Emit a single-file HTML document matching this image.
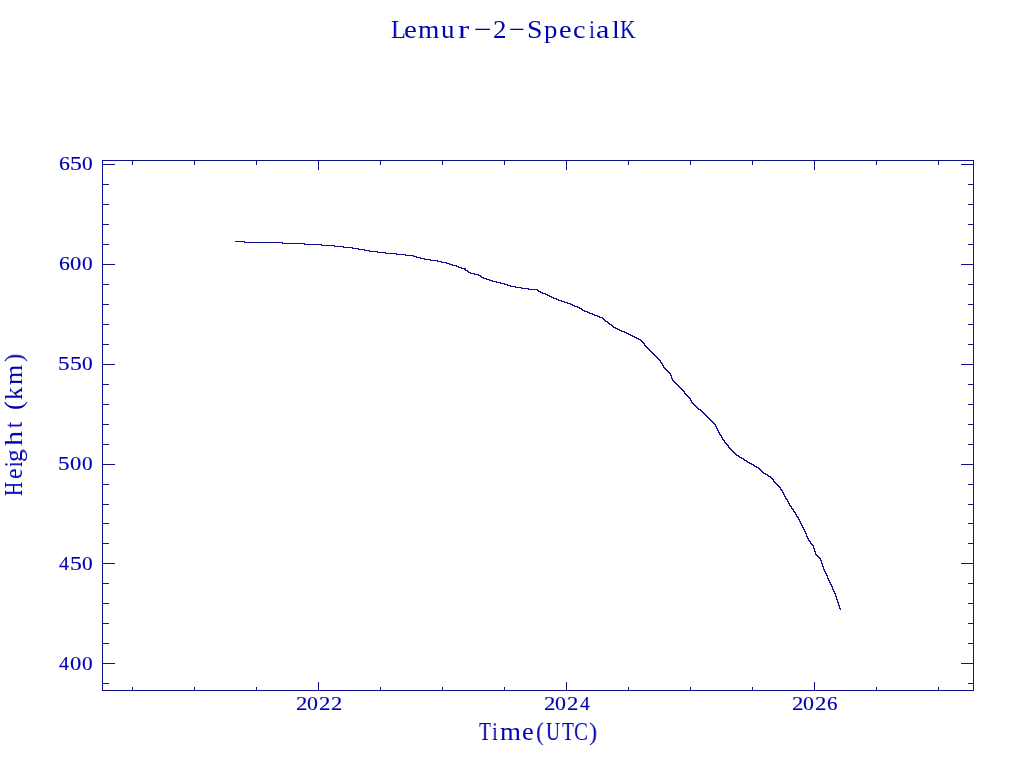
<!DOCTYPE html>
<html><head><meta charset="utf-8">
<style>
html,body{margin:0;padding:0;background:#fff;}
body{width:1024px;height:768px;position:relative;overflow:hidden;font-family:"Liberation Serif",serif;color:#0000b0;}
svg{position:absolute;left:0;top:0;}
.g{position:absolute;white-space:nowrap;line-height:1;transform-origin:0 0;will-change:transform;}
.d{-webkit-text-stroke:0.15px #0000b0;}
#yt{position:absolute;left:0;top:495px;width:0;height:0;transform:rotate(-90deg);transform-origin:0 0;}
</style></head><body>
<svg width="1024" height="768" viewBox="0 0 1024 768">
<g fill="#10108c" shape-rendering="crispEdges">
<rect x="102" y="160" width="872" height="1"/><rect x="102" y="690" width="872" height="1"/><rect x="102" y="160" width="1" height="531"/><rect x="973" y="160" width="1" height="531"/><rect x="102" y="164" width="13" height="1"/><rect x="961" y="164" width="13" height="1"/><rect x="102" y="184" width="7" height="1"/><rect x="968" y="184" width="6" height="1"/><rect x="102" y="204" width="7" height="1"/><rect x="968" y="204" width="6" height="1"/><rect x="102" y="224" width="7" height="1"/><rect x="968" y="224" width="6" height="1"/><rect x="102" y="244" width="7" height="1"/><rect x="968" y="244" width="6" height="1"/><rect x="102" y="264" width="13" height="1"/><rect x="961" y="264" width="13" height="1"/><rect x="102" y="284" width="7" height="1"/><rect x="968" y="284" width="6" height="1"/><rect x="102" y="304" width="7" height="1"/><rect x="968" y="304" width="6" height="1"/><rect x="102" y="324" width="7" height="1"/><rect x="968" y="324" width="6" height="1"/><rect x="102" y="344" width="7" height="1"/><rect x="968" y="344" width="6" height="1"/><rect x="102" y="364" width="13" height="1"/><rect x="961" y="364" width="13" height="1"/><rect x="102" y="384" width="7" height="1"/><rect x="968" y="384" width="6" height="1"/><rect x="102" y="404" width="7" height="1"/><rect x="968" y="404" width="6" height="1"/><rect x="102" y="424" width="7" height="1"/><rect x="968" y="424" width="6" height="1"/><rect x="102" y="444" width="7" height="1"/><rect x="968" y="444" width="6" height="1"/><rect x="102" y="464" width="13" height="1"/><rect x="961" y="464" width="13" height="1"/><rect x="102" y="484" width="7" height="1"/><rect x="968" y="484" width="6" height="1"/><rect x="102" y="504" width="7" height="1"/><rect x="968" y="504" width="6" height="1"/><rect x="102" y="523" width="7" height="1"/><rect x="968" y="523" width="6" height="1"/><rect x="102" y="543" width="7" height="1"/><rect x="968" y="543" width="6" height="1"/><rect x="102" y="563" width="13" height="1"/><rect x="961" y="563" width="13" height="1"/><rect x="102" y="583" width="7" height="1"/><rect x="968" y="583" width="6" height="1"/><rect x="102" y="603" width="7" height="1"/><rect x="968" y="603" width="6" height="1"/><rect x="102" y="623" width="7" height="1"/><rect x="968" y="623" width="6" height="1"/><rect x="102" y="643" width="7" height="1"/><rect x="968" y="643" width="6" height="1"/><rect x="102" y="663" width="13" height="1"/><rect x="961" y="663" width="13" height="1"/><rect x="102" y="683" width="7" height="1"/><rect x="968" y="683" width="6" height="1"/><rect x="132" y="687" width="1" height="4"/><rect x="132" y="160" width="1" height="5"/><rect x="194" y="687" width="1" height="4"/><rect x="194" y="160" width="1" height="5"/><rect x="256" y="687" width="1" height="4"/><rect x="256" y="160" width="1" height="5"/><rect x="318" y="682" width="1" height="9"/><rect x="318" y="160" width="1" height="10"/><rect x="380" y="687" width="1" height="4"/><rect x="380" y="160" width="1" height="5"/><rect x="442" y="687" width="1" height="4"/><rect x="442" y="160" width="1" height="5"/><rect x="504" y="687" width="1" height="4"/><rect x="504" y="160" width="1" height="5"/><rect x="566" y="682" width="1" height="9"/><rect x="566" y="160" width="1" height="10"/><rect x="628" y="687" width="1" height="4"/><rect x="628" y="160" width="1" height="5"/><rect x="690" y="687" width="1" height="4"/><rect x="690" y="160" width="1" height="5"/><rect x="752" y="687" width="1" height="4"/><rect x="752" y="160" width="1" height="5"/><rect x="814" y="682" width="1" height="9"/><rect x="814" y="160" width="1" height="10"/><rect x="876" y="687" width="1" height="4"/><rect x="876" y="160" width="1" height="5"/><rect x="938" y="687" width="1" height="4"/><rect x="938" y="160" width="1" height="5"/>
</g>
<path d="M235 241h10v1h-10zM244 242h39v1h-39zM282 243h23v1h-23zM304 244h18v1h-18zM321 245h14v1h-14zM334 246h10v1h-10zM343 247h10v1h-10zM352 248h7v1h-7zM358 249h7v1h-7zM364 250h6v1h-6zM369 251h9v1h-9zM377 252h9v1h-9zM385 253h12v1h-12zM396 254h10v1h-10zM405 255h9v1h-9zM413 256h4v1h-4zM416 257h5v1h-5zM420 258h5v1h-5zM424 259h7v1h-7zM430 260h8v1h-8zM437 261h5v1h-5zM441 262h6v1h-6zM446 263h4v1h-4zM449 264h4v1h-4zM452 265h5v1h-5zM456 266h3v1h-3zM458 267h4v1h-4zM461 268h5v1h-5zM464 269h2v1h-2zM465 270h3v1h-3zM467 271h2v1h-2zM468 272h3v1h-3zM470 273h5v1h-5zM474 274h5v1h-5zM478 275h3v1h-3zM480 276h2v1h-2zM481 277h3v1h-3zM483 278h4v1h-4zM486 279h4v1h-4zM489 280h4v1h-4zM492 281h5v1h-5zM496 282h5v1h-5zM500 283h5v1h-5zM504 284h4v1h-4zM507 285h4v1h-4zM510 286h6v1h-6zM515 287h7v1h-7zM521 288h8v1h-8zM528 289h10v1h-10zM537 290h2v1h-2zM538 291h3v1h-3zM540 292h3v1h-3zM542 293h4v1h-4zM545 294h3v1h-3zM547 295h3v1h-3zM549 296h3v1h-3zM551 297h3v1h-3zM553 298h4v1h-4zM556 299h3v1h-3zM558 300h4v1h-4zM561 301h4v1h-4zM564 302h4v1h-4zM567 303h4v1h-4zM570 304h3v1h-3zM572 305h3v1h-3zM574 306h4v1h-4zM577 307h3v1h-3zM579 308h3v1h-3zM581 309h2v1h-2zM582 310h3v1h-3zM584 311h4v1h-4zM587 312h3v1h-3zM589 313h4v1h-4zM592 314h3v1h-3zM594 315h4v1h-4zM597 316h3v1h-3zM599 317h4v1h-4zM602 318h2v1h-2zM603 319h2v1h-2zM604 320h2v1h-2zM605 321h3v1h-3zM607 322h2v1h-2zM608 323h2v1h-2zM609 324h3v1h-3zM611 325h2v1h-2zM612 326h2v1h-2zM613 327h3v1h-3zM615 328h3v1h-3zM617 329h3v1h-3zM619 330h3v1h-3zM621 331h4v1h-4zM624 332h3v1h-3zM626 333h3v1h-3zM628 334h3v1h-3zM630 335h3v1h-3zM632 336h3v1h-3zM634 337h3v1h-3zM636 338h3v1h-3zM638 339h3v1h-3zM640 340h2v1h-2zM641 341h2v1h-2zM642 342h2v1h-2zM643 343h2v1h-2zM644 344h1v1h-1zM644 345h2v1h-2zM645 346h2v1h-2zM646 347h2v1h-2zM647 348h2v1h-2zM648 349h2v1h-2zM649 350h2v1h-2zM650 351h2v1h-2zM651 352h2v1h-2zM652 353h2v1h-2zM653 354h2v1h-2zM654 355h2v1h-2zM655 356h2v1h-2zM656 357h2v1h-2zM657 358h2v1h-2zM658 359h2v1h-2zM659 360h2v1h-2zM660 361h1v1h-1zM660 362h2v1h-2zM661 363h2v1h-2zM662 364h1v1h-1zM662 365h2v1h-2zM663 366h1v1h-1zM663 367h2v1h-2zM664 368h2v1h-2zM665 369h2v1h-2zM666 370h2v1h-2zM667 371h2v1h-2zM668 372h2v1h-2zM669 373h2v1h-2zM670 374h1v1h-1zM670 375h2v1h-2zM671 376h1v1h-1zM671 377h1v1h-1zM671 378h2v1h-2zM672 379h1v1h-1zM672 380h2v1h-2zM673 381h2v1h-2zM674 382h2v1h-2zM675 383h2v1h-2zM676 384h2v1h-2zM677 385h2v1h-2zM678 386h2v1h-2zM679 387h2v1h-2zM680 388h2v1h-2zM681 389h2v1h-2zM682 390h2v1h-2zM683 391h2v1h-2zM684 392h1v1h-1zM684 393h2v1h-2zM685 394h2v1h-2zM686 395h2v1h-2zM687 396h2v1h-2zM688 397h2v1h-2zM689 398h2v1h-2zM690 399h1v1h-1zM690 400h2v1h-2zM691 401h1v1h-1zM691 402h2v1h-2zM692 403h2v1h-2zM693 404h2v1h-2zM694 405h2v1h-2zM695 406h2v1h-2zM696 407h2v1h-2zM697 408h2v1h-2zM698 409h3v1h-3zM700 410h2v1h-2zM701 411h2v1h-2zM702 412h2v1h-2zM703 413h2v1h-2zM704 414h2v1h-2zM705 415h2v1h-2zM706 416h2v1h-2zM707 417h2v1h-2zM708 418h2v1h-2zM709 419h2v1h-2zM710 420h2v1h-2zM711 421h2v1h-2zM712 422h2v1h-2zM713 423h2v1h-2zM714 424h2v1h-2zM715 425h1v1h-1zM715 426h2v1h-2zM716 427h1v1h-1zM716 428h2v1h-2zM717 429h1v1h-1zM717 430h2v1h-2zM718 431h1v1h-1zM718 432h2v1h-2zM719 433h1v1h-1zM719 434h2v1h-2zM720 435h2v1h-2zM721 436h1v1h-1zM721 437h2v1h-2zM722 438h1v1h-1zM722 439h2v1h-2zM723 440h2v1h-2zM724 441h1v1h-1zM724 442h2v1h-2zM725 443h2v1h-2zM726 444h2v1h-2zM727 445h2v1h-2zM728 446h1v1h-1zM728 447h2v1h-2zM729 448h2v1h-2zM730 449h2v1h-2zM731 450h2v1h-2zM732 451h2v1h-2zM733 452h2v1h-2zM734 453h2v1h-2zM735 454h2v1h-2zM736 455h3v1h-3zM738 456h2v1h-2zM739 457h3v1h-3zM741 458h3v1h-3zM743 459h2v1h-2zM744 460h3v1h-3zM746 461h2v1h-2zM747 462h3v1h-3zM749 463h3v1h-3zM751 464h3v1h-3zM753 465h2v1h-2zM754 466h3v1h-3zM756 467h3v1h-3zM758 468h2v1h-2zM759 469h2v1h-2zM760 470h2v1h-2zM761 471h2v1h-2zM762 472h2v1h-2zM763 473h3v1h-3zM765 474h3v1h-3zM767 475h2v1h-2zM768 476h3v1h-3zM770 477h2v1h-2zM771 478h2v1h-2zM772 479h2v1h-2zM773 480h1v1h-1zM773 481h2v1h-2zM774 482h2v1h-2zM775 483h2v1h-2zM776 484h2v1h-2zM777 485h2v1h-2zM778 486h2v1h-2zM779 487h2v1h-2zM780 488h1v1h-1zM780 489h2v1h-2zM781 490h2v1h-2zM782 491h1v1h-1zM782 492h2v1h-2zM783 493h1v1h-1zM783 494h2v1h-2zM784 495h1v1h-1zM784 496h2v1h-2zM785 497h1v1h-1zM785 498h2v1h-2zM786 499h2v1h-2zM787 500h1v1h-1zM787 501h2v1h-2zM788 502h1v1h-1zM788 503h2v1h-2zM789 504h1v1h-1zM789 505h2v1h-2zM790 506h2v1h-2zM791 507h1v1h-1zM791 508h2v1h-2zM792 509h2v1h-2zM793 510h1v1h-1zM793 511h2v1h-2zM794 512h2v1h-2zM795 513h1v1h-1zM795 514h2v1h-2zM796 515h1v1h-1zM796 516h2v1h-2zM797 517h2v1h-2zM798 518h1v1h-1zM798 519h2v1h-2zM799 520h1v1h-1zM799 521h2v1h-2zM800 522h1v1h-1zM800 523h2v1h-2zM801 524h1v1h-1zM801 525h2v1h-2zM802 526h1v1h-1zM802 527h2v1h-2zM803 528h1v1h-1zM803 529h2v1h-2zM804 530h1v1h-1zM804 531h2v1h-2zM805 532h1v1h-1zM805 533h2v1h-2zM806 534h1v1h-1zM806 535h1v1h-1zM806 536h2v1h-2zM807 537h1v1h-1zM807 538h2v1h-2zM808 539h1v1h-1zM808 540h2v1h-2zM809 541h2v1h-2zM810 542h1v1h-1zM810 543h2v1h-2zM811 544h2v1h-2zM812 545h2v1h-2zM813 546h1v1h-1zM813 547h1v1h-1zM813 548h2v1h-2zM814 549h1v1h-1zM814 550h1v1h-1zM814 551h2v1h-2zM815 552h1v1h-1zM815 553h1v1h-1zM815 554h2v1h-2zM816 555h2v1h-2zM817 556h2v1h-2zM818 557h2v1h-2zM819 558h2v1h-2zM820 559h1v1h-1zM820 560h2v1h-2zM821 561h1v1h-1zM821 562h1v1h-1zM821 563h2v1h-2zM822 564h1v1h-1zM822 565h1v1h-1zM822 566h2v1h-2zM823 567h1v1h-1zM823 568h1v1h-1zM823 569h2v1h-2zM824 570h1v1h-1zM824 571h2v1h-2zM825 572h1v1h-1zM825 573h2v1h-2zM826 574h1v1h-1zM826 575h2v1h-2zM827 576h1v1h-1zM827 577h1v1h-1zM827 578h2v1h-2zM828 579h1v1h-1zM828 580h2v1h-2zM829 581h1v1h-1zM829 582h2v1h-2zM830 583h1v1h-1zM830 584h2v1h-2zM831 585h1v1h-1zM831 586h2v1h-2zM832 587h1v1h-1zM832 588h1v1h-1zM832 589h2v1h-2zM833 590h1v1h-1zM833 591h2v1h-2zM834 592h1v1h-1zM834 593h2v1h-2zM835 594h1v1h-1zM835 595h1v1h-1zM835 596h2v1h-2zM836 597h1v1h-1zM836 598h1v1h-1zM836 599h2v1h-2zM837 600h1v1h-1zM837 601h1v1h-1zM837 602h2v1h-2zM838 603h1v1h-1zM838 604h1v1h-1zM838 605h2v1h-2zM839 606h1v1h-1zM839 607h1v1h-1zM839 608h2v1h-2zM840 609h1v1h-1z" fill="#10108c" shape-rendering="crispEdges"/>
</svg>
<span class="g d" style="left:58.58px;top:154px;font-size:19.5px;transform:scaleX(1.116);">6</span><span class="g d" style="left:69.83px;top:154px;font-size:19.5px;transform:scaleX(1.223);">5</span><span class="g d" style="left:82.20px;top:154px;font-size:19.5px;transform:scaleX(1.098);">0</span><span class="g d" style="left:58.58px;top:254px;font-size:19.5px;transform:scaleX(1.116);">6</span><span class="g d" style="left:70.35px;top:254px;font-size:19.5px;transform:scaleX(1.158);">0</span><span class="g d" style="left:82.20px;top:254px;font-size:19.5px;transform:scaleX(1.098);">0</span><span class="g d" style="left:58.17px;top:354px;font-size:19.5px;transform:scaleX(1.185);">5</span><span class="g d" style="left:69.83px;top:354px;font-size:19.5px;transform:scaleX(1.223);">5</span><span class="g d" style="left:82.20px;top:354px;font-size:19.5px;transform:scaleX(1.098);">0</span><span class="g d" style="left:58.17px;top:454px;font-size:19.5px;transform:scaleX(1.185);">5</span><span class="g d" style="left:70.35px;top:454px;font-size:19.5px;transform:scaleX(1.158);">0</span><span class="g d" style="left:82.20px;top:454px;font-size:19.5px;transform:scaleX(1.098);">0</span><span class="g d" style="left:59.10px;top:554px;font-size:19.5px;transform:scaleX(1.026);">4</span><span class="g d" style="left:69.83px;top:554px;font-size:19.5px;transform:scaleX(1.223);">5</span><span class="g d" style="left:82.20px;top:554px;font-size:19.5px;transform:scaleX(1.098);">0</span><span class="g d" style="left:59.10px;top:654px;font-size:19.5px;transform:scaleX(1.026);">4</span><span class="g d" style="left:70.35px;top:654px;font-size:19.5px;transform:scaleX(1.158);">0</span><span class="g d" style="left:82.20px;top:654px;font-size:19.5px;transform:scaleX(1.098);">0</span><span class="g d" style="left:295.78px;top:694px;font-size:19.5px;transform:scaleX(1.167);">2</span><span class="g d" style="left:307.18px;top:694px;font-size:19.5px;transform:scaleX(1.122);">0</span><span class="g d" style="left:318.98px;top:694px;font-size:19.5px;transform:scaleX(1.167);">2</span><span class="g d" style="left:331.09px;top:694px;font-size:19.5px;transform:scaleX(1.154);">2</span><span class="g d" style="left:543.78px;top:694px;font-size:19.5px;transform:scaleX(1.167);">2</span><span class="g d" style="left:555.18px;top:694px;font-size:19.5px;transform:scaleX(1.122);">0</span><span class="g d" style="left:566.98px;top:694px;font-size:19.5px;transform:scaleX(1.167);">2</span><span class="g d" style="left:579.71px;top:694px;font-size:19.5px;transform:scaleX(0.993);">4</span><span class="g d" style="left:791.78px;top:694px;font-size:19.5px;transform:scaleX(1.167);">2</span><span class="g d" style="left:803.18px;top:694px;font-size:19.5px;transform:scaleX(1.122);">0</span><span class="g d" style="left:814.98px;top:694px;font-size:19.5px;transform:scaleX(1.167);">2</span><span class="g d" style="left:827.21px;top:694px;font-size:19.5px;transform:scaleX(1.080);">6</span><span class="g" style="left:391.27px;top:17px;font-size:26px;transform:scaleX(0.939);">L</span><span class="g" style="left:404.14px;top:17px;font-size:26px;transform:scaleX(1.112);">e</span><span class="g" style="left:418.05px;top:17px;font-size:26px;transform:scaleX(1.057);">m</span><span class="g" style="left:441.16px;top:17px;font-size:26px;transform:scaleX(1.039);">u</span><span class="g" style="left:457.52px;top:17px;font-size:26px;transform:scaleX(1.300);">r</span><span class="g" style="left:474.23px;top:17px;font-size:26px;transform:scaleX(1.208);">−</span><span class="g" style="left:492.99px;top:17px;font-size:26px;transform:scaleX(1.038);">2</span><span class="g" style="left:509.48px;top:17px;font-size:26px;transform:scaleX(1.092);">−</span><span class="g" style="left:526.82px;top:17px;font-size:26px;transform:scaleX(1.071);">S</span><span class="g" style="left:543.50px;top:17px;font-size:26px;transform:scaleX(1.029);">p</span><span class="g" style="left:559.26px;top:17px;font-size:26px;transform:scaleX(1.091);">e</span><span class="g" style="left:573.14px;top:17px;font-size:26px;transform:scaleX(1.087);">c</span><span class="g" style="left:588.97px;top:17px;font-size:26px;transform:scaleX(0.833);">i</span><span class="g" style="left:596.25px;top:17px;font-size:26px;transform:scaleX(1.159);">a</span><span class="g" style="left:611.84px;top:17px;font-size:26px;transform:scaleX(1.069);">l</span><span class="g" style="left:620.36px;top:17px;font-size:26px;transform:scaleX(0.817);">K</span><span class="g" style="left:478.56px;top:719px;font-size:26px;transform:scaleX(0.753);">T</span><span class="g" style="left:492.38px;top:719px;font-size:26px;transform:scaleX(0.817);">i</span><span class="g" style="left:500.16px;top:719px;font-size:26px;transform:scaleX(1.036);">m</span><span class="g" style="left:522.24px;top:719px;font-size:26px;transform:scaleX(1.019);">e</span><span class="g" style="left:535.94px;top:719px;font-size:26px;transform:scaleX(0.905);">(</span><span class="g" style="left:545.73px;top:719px;font-size:26px;transform:scaleX(0.750);">U</span><span class="g" style="left:561.56px;top:719px;font-size:26px;transform:scaleX(0.753);">T</span><span class="g" style="left:574.37px;top:719px;font-size:26px;transform:scaleX(0.799);">C</span><span class="g" style="left:589.00px;top:719px;font-size:26px;transform:scaleX(0.941);">)</span>
<div id="yt"><span class="g" style="left:-0.59px;top:1px;font-size:26px;transform:scaleX(0.755);">H</span><span class="g" style="left:16.25px;top:1px;font-size:26px;transform:scaleX(0.915);">e</span><span class="g" style="left:27.97px;top:1px;font-size:26px;transform:scaleX(0.750);">i</span><span class="g" style="left:32.73px;top:1px;font-size:26px;transform:scaleX(0.967);">g</span><span class="g" style="left:49.20px;top:1px;font-size:26px;transform:scaleX(1.168);">h</span><span class="g" style="left:66.98px;top:1px;font-size:26px;transform:scaleX(0.850);">t</span><span class="g" style="left:85.30px;top:1px;font-size:26px;transform:scaleX(1.026);">(</span><span class="g" style="left:95.48px;top:1px;font-size:26px;transform:scaleX(0.994);">k</span><span class="g" style="left:109.98px;top:1px;font-size:26px;transform:scaleX(1.000);">m</span><span class="g" style="left:132.60px;top:1px;font-size:26px;transform:scaleX(0.941);">)</span></div>
</body></html>
